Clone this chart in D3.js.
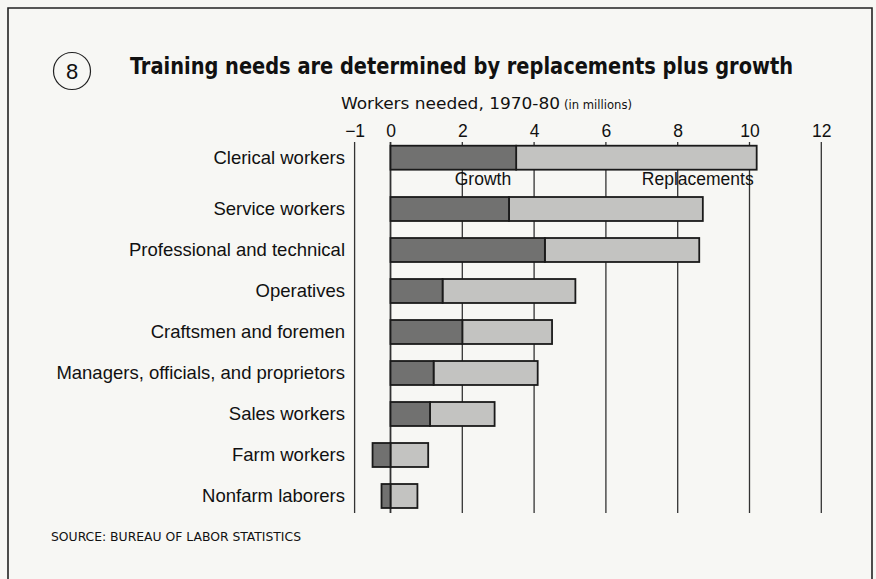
<!DOCTYPE html>
<html>
<head>
<meta charset="utf-8">
<script src="https://cdn.jsdelivr.net/npm/d3@7"></script>
<style>
  html, body { margin: 0; padding: 0; background: #f7f7f4; }
  svg { display: block; }
</style>
</head>
<body>
<div id="chart"></div>
<script>
// ---- data ----
const categories = [
  "Clerical workers",
  "Service workers",
  "Professional and technical",
  "Operatives",
  "Craftsmen and foremen",
  "Managers, officials, and proprietors",
  "Sales workers",
  "Farm workers",
  "Nonfarm laborers"
];
const growth       = [3.5, 3.3, 4.3, 1.45, 2.0, 1.2, 1.1, -0.5, -0.25];
const replacements = [6.7, 5.4, 4.3, 3.7, 2.5, 2.9, 1.8, 1.05, 0.75];
const tickValues = [-1, 0, 2, 4, 6, 8, 10, 12];
const seriesNames = ["Growth", "Replacements"];

const W = 876, H = 579;
const svg = d3.select("#chart").append("svg").attr("width", W).attr("height", H);

svg.append("rect").attr("width", W).attr("height", H).attr("fill", "#f7f7f4");
// frame
svg.append("path")
  .attr("d", `M8,${H + 2} L8,8 L872,8 L872,${H + 2}`)
  .attr("fill", "none").attr("stroke", "#222").attr("stroke-width", 1.6);

const condensed = "'Liberation Sans Narrow', 'DejaVu Sans Condensed', 'Liberation Sans', sans-serif";
const sans = "'Liberation Sans', Arial, sans-serif";

// title
svg.append("circle").attr("cx", 72).attr("cy", 71).attr("r", 18.5)
  .attr("fill", "none").attr("stroke", "#222").attr("stroke-width", 1.2);
svg.append("text").attr("x", 72).attr("y", 79).attr("text-anchor", "middle")
  .attr("font-family", sans).attr("font-size", 22)
  .attr("fill", "#111").text("8");
svg.append("text").attr("x", 130).attr("y", 74)
  .attr("font-family", condensed)
  .attr("font-weight", "bold").attr("font-size", 23).attr("fill", "#111")
  .attr("textLength", 663).attr("lengthAdjust", "spacingAndGlyphs")
  .text("Training needs are determined by replacements plus growth");

// axis title
svg.append("text").attr("x", 341).attr("y", 109)
  .attr("font-family", condensed)
  .attr("font-size", 16).attr("fill", "#111")
  .attr("textLength", 219).attr("lengthAdjust", "spacingAndGlyphs")
  .text("Workers needed, 1970-80");
svg.append("text").attr("x", 564).attr("y", 109)
  .attr("font-family", condensed)
  .attr("font-size", 12.5).attr("fill", "#111")
  .attr("textLength", 68).attr("lengthAdjust", "spacingAndGlyphs")
  .text("(in millions)");

// scales
const x = d3.scaleLinear().domain([-1, 12]).range([354.6, 821.3]);
const y = d3.scaleBand().domain(categories).range([147.5, 516.5])
  .paddingInner(0.415).paddingOuter(0.2075);
const firstShift = -10.3; // extra gap below first bar for series labels
const yPos = (c, i) => y(c) + (i === 0 ? firstShift : 0);

// gridlines
const gridTop = 142, gridBottom = 513;
svg.append("g").selectAll("line").data(tickValues).join("line")
  .attr("x1", d => x(d)).attr("x2", d => x(d))
  .attr("y1", gridTop).attr("y2", gridBottom)
  .attr("stroke", "#333").attr("stroke-width", d => d === 0 ? 1.8 : 1.3);

// tick labels via axis
const axis = d3.axisTop(x).tickValues(tickValues).tickSize(0).tickPadding(0)
  .tickFormat(d => d < 0 ? "\u2212" + Math.abs(d) : String(d));
const ag = svg.append("g").attr("transform", "translate(0,137)").call(axis);
ag.select(".domain").remove();
ag.selectAll("text").attr("font-family", sans)
  .attr("font-size", 17.5).attr("fill", "#111").attr("dy", 0);

// bars
const rows = categories.map((c, i) => ({ c, i, g: growth[i], r: replacements[i] }));
const bh = y.bandwidth();
const bars = svg.append("g");
rows.forEach(d => {
  const top = yPos(d.c, d.i);
  const gStart = Math.min(0, d.g), gEnd = Math.max(0, d.g);
  const rStart = Math.max(0, d.g), rEnd = rStart + d.r;
  bars.append("rect").attr("x", x(rStart)).attr("y", top)
    .attr("width", x(rEnd) - x(rStart)).attr("height", bh)
    .attr("fill", "#c3c3c1").attr("stroke", "#1a1a1a").attr("stroke-width", 1.8);
  bars.append("rect").attr("x", x(gStart)).attr("y", top)
    .attr("width", x(gEnd) - x(gStart)).attr("height", bh)
    .attr("fill", "#717170").attr("stroke", "#1a1a1a").attr("stroke-width", 1.8);
});

// category labels
svg.append("g").selectAll("text").data(rows).join("text")
  .attr("x", 345).attr("y", d => yPos(d.c, d.i) + bh / 2 + 6)
  .attr("text-anchor", "end")
  .attr("font-family", sans)
  .attr("font-size", 18.5).attr("fill", "#111")
  .text(d => d.c);

// series labels under first bar
const r0 = rows[0];
svg.append("text").attr("x", x(r0.g) - 5).attr("y", 185).attr("text-anchor", "end")
  .attr("font-family", sans).attr("font-size", 17.5)
  .attr("fill", "#111").text(seriesNames[0]);
svg.append("text").attr("x", x(r0.g + r0.r) - 3).attr("y", 185).attr("text-anchor", "end")
  .attr("font-family", sans).attr("font-size", 17.5)
  .attr("fill", "#111").text(seriesNames[1]);

// source
svg.append("text").attr("x", 51).attr("y", 541)
  .attr("font-family", condensed)
  .attr("font-size", 13).attr("fill", "#111")
  .attr("textLength", 250).attr("lengthAdjust", "spacingAndGlyphs")
  .text("SOURCE: BUREAU OF LABOR STATISTICS");
</script>
</body>
</html>
